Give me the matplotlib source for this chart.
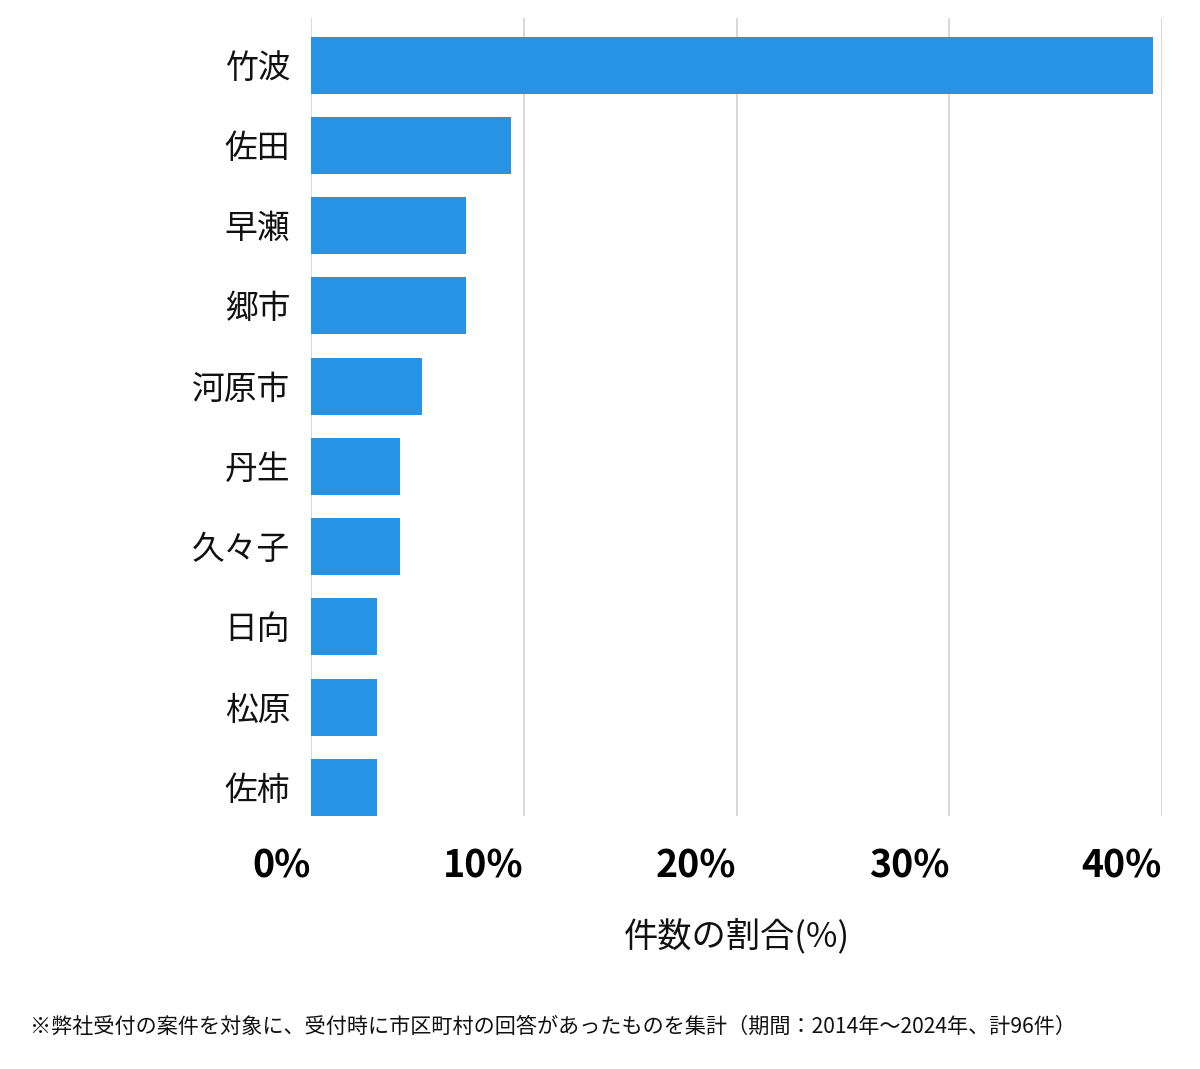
import matplotlib
matplotlib.use("Agg")
import matplotlib.pyplot as plt
from matplotlib.ticker import FuncFormatter

plt.rcParams['font.family'] = ['Noto Sans CJK JP', 'DejaVu Sans']

# data: share of cases (%) per area, 96 cases total
areas = ["竹波", "佐田", "早瀬", "郷市", "河原市", "丹生", "久々子", "日向", "松原", "佐柿"]
shares = [39.6, 9.4, 7.3, 7.3, 5.2, 4.2, 4.2, 3.1, 3.1, 3.1]
xticks = [0, 10, 20, 30, 40]

bar_color = "#2793e4"
grid_color = "#d6d6d6"

fig = plt.figure(figsize=(12, 10.69), dpi=100)
ax = fig.add_axes([311/1200, 1 - 816/1069, (1162-311)/1200, (816-18)/1069])

ypos = list(range(len(areas)))
ax.barh(ypos, shares, height=0.71, color=bar_color, zorder=3)

ax.set_xlim(0, 40)
ax.set_ylim(9.355, -0.586)
ax.set_yticks(ypos)
ax.set_yticklabels(areas, fontsize=23.6, color="#111111")
ax.set_xticks(xticks)
ax.xaxis.set_major_formatter(FuncFormatter(lambda v, p: f"{v:.0f}%"))
for lab in ax.get_xticklabels():
    lab.set_fontweight("bold")
    lab.set_fontsize(27)
    lab.set_horizontalalignment("right")
ax.tick_params(axis="both", length=0)
ax.tick_params(axis="y", pad=15)
ax.tick_params(axis="x", pad=22)

ax.grid(axis="x", color=grid_color, linewidth=1.3, zorder=0)
for s in ax.spines.values():
    s.set_visible(False)

fig.text((311 + 1162) / 2 / 1200, 1 - 936/1069, "件数の割合(%)", fontsize=24.7,
         ha="center", va="center", color="#111111")
fig.text(30/1200, 1 - 1027/1069,
         "※弊社受付の案件を対象に、受付時に市区町村の回答があったものを集計（期間：2014年～2024年、計96件）",
         fontsize=15.2, ha="left", va="center", color="#111111")

fig.savefig("out.png", dpi=100, facecolor="white")
